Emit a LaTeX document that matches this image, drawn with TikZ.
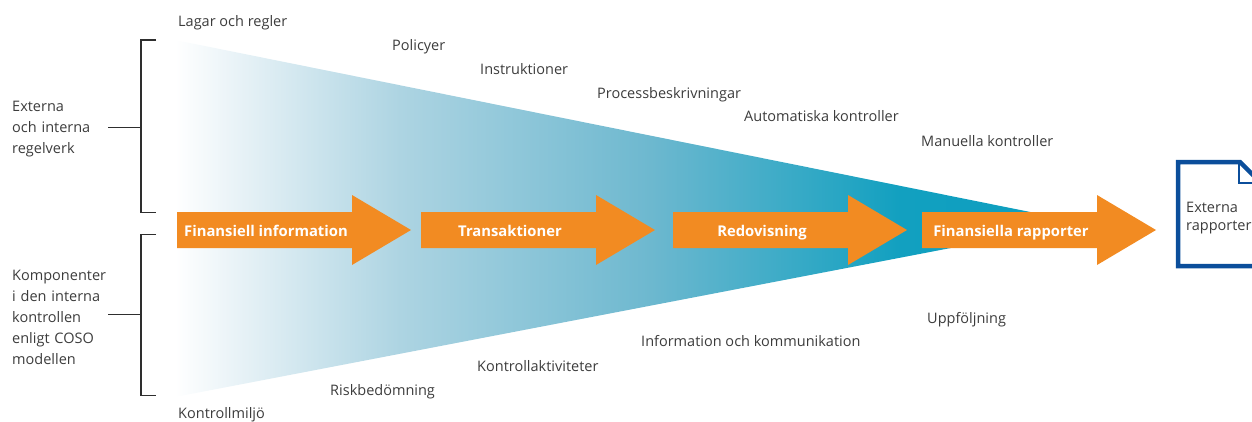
\documentclass[tikz,border=0pt]{standalone}
\usepackage{fontspec}
\setmainfont{Open Sans}
\definecolor{txt}{HTML}{3C3C3C}
\definecolor{brk}{HTML}{2E2E2E}
\definecolor{orng}{HTML}{F28B22}
\definecolor{docblue}{HTML}{0B4E9B}
\definecolor{wa}{HTML}{EBF4F8}
\definecolor{wb}{HTML}{ADD4E2}
\definecolor{wc}{HTML}{6DB8CF}
\definecolor{wd}{HTML}{12A0C0}
\definecolor{we}{HTML}{0C9EBF}
\pgfdeclarehorizontalshading{wedgeshade}{100bp}{color(0bp)=(white); color(25bp)=(white); color(28bp)=(wa); color(37.4bp)=(wb); color(51.2bp)=(wc); color(64.9bp)=(wd); color(75bp)=(we); color(100bp)=(we)}
\begin{document}
\begin{tikzpicture}[x=1pt,y=-1pt,
  lbl/.style={text=txt, inner sep=0pt, anchor=base west, font=\fontsize{14.5}{21}\selectfont},
  blockl/.style={text=txt, inner sep=0pt, anchor=base west, align=left, text width=110pt, font=\fontsize{14.5}{21}\selectfont},
  arrowtxt/.style={text=white, inner sep=0pt, anchor=base, font=\bfseries\fontsize{14.8}{18}\selectfont},
  arrowfill/.style={fill=orng, draw=none},
  bracketline/.style={draw=brk, line width=1.5pt},
  docline/.style={draw=docblue, line width=4.5pt, line join=miter},
  foldline/.style={draw=docblue, line width=2.2pt}]
\useasboundingbox (0,0) rectangle (1252,421);
% wedge
\shade[shading=wedgeshade] (175,40) -- (1083,222.6) -- (175,397) -- cycle;
% arrows
\foreach \x/\n/\t in {177/a1/Finansiell information, 421/a2/Transaktioner, 673/a3/Redovisning, 922/a4/Finansiella rapporter} {
  \fill[arrowfill] (\x,212) -- (\x+175,212) -- (\x+175,195) -- (\x+234,230) -- (\x+175,265) -- (\x+175,248) -- (\x,248) -- cycle;
  \node[arrowtxt] (\n) at (\x+89,236.5) {\t};
}
% document
\draw[docline] (1178,162) -- (1240,162) -- (1264,186) -- (1264,266) -- (1178,266) -- cycle;
\draw[foldline] (1239,162) -- (1239,183) -- (1262,183);
\node[text=txt, inner sep=0pt, anchor=base west, align=left, text width=70pt, font=\fontsize{14.5}{17.5}\selectfont] (doc) at (1186,212.5) {Externa\\rapporter};
% top labels
\node[lbl] (l1) at (178,26.5) {Lagar och regler};
\node[lbl] (l2) at (392,50) {Policyer};
\node[lbl] (l3) at (480,74.5) {Instruktioner};
\node[lbl] (l4) at (597,98) {Processbeskrivningar};
\node[lbl] (l5) at (744,121.5) {Automatiska kontroller};
\node[lbl] (l6) at (921,146) {Manuella kontroller};
% bottom labels
\node[lbl] (m1) at (927,323) {Uppföljning};
\node[lbl] (m2) at (641,346.7) {Information och kommunikation};
\node[lbl] (m3) at (477,371) {Kontrollaktiviteter};
\node[lbl] (m4) at (330,395) {Riskbedömning};
\node[lbl] (m5) at (178,418) {Kontrollmiljö};
% left labels
\node[blockl] (g1) at (12,111.5) {Externa\\och interna\\regelverk};
\node[blockl] (g2) at (12,280) {Komponenter\\i den interna\\kontrollen\\enligt COSO\\modellen};
% brackets
\coordinate (b1t) at (156,40);
\coordinate (b1b) at (156,212.5);
\coordinate (b1m) at (141,127.7);
\coordinate (b1s) at (108,127.7);
\draw[bracketline] (b1t) -- (141,40) -- (141,212.5) -- (b1b);
\draw[bracketline] (b1s) -- (b1m);
\coordinate (b2t) at (156,234.5);
\coordinate (b2b) at (156,395.5);
\coordinate (b2m) at (141,314.5);
\coordinate (b2s) at (108,314.5);
\draw[bracketline] (b2t) -- (141,234.5) -- (141,395.5) -- (b2b);
\draw[bracketline] (b2s) -- (b2m);
\end{tikzpicture}
\end{document}
